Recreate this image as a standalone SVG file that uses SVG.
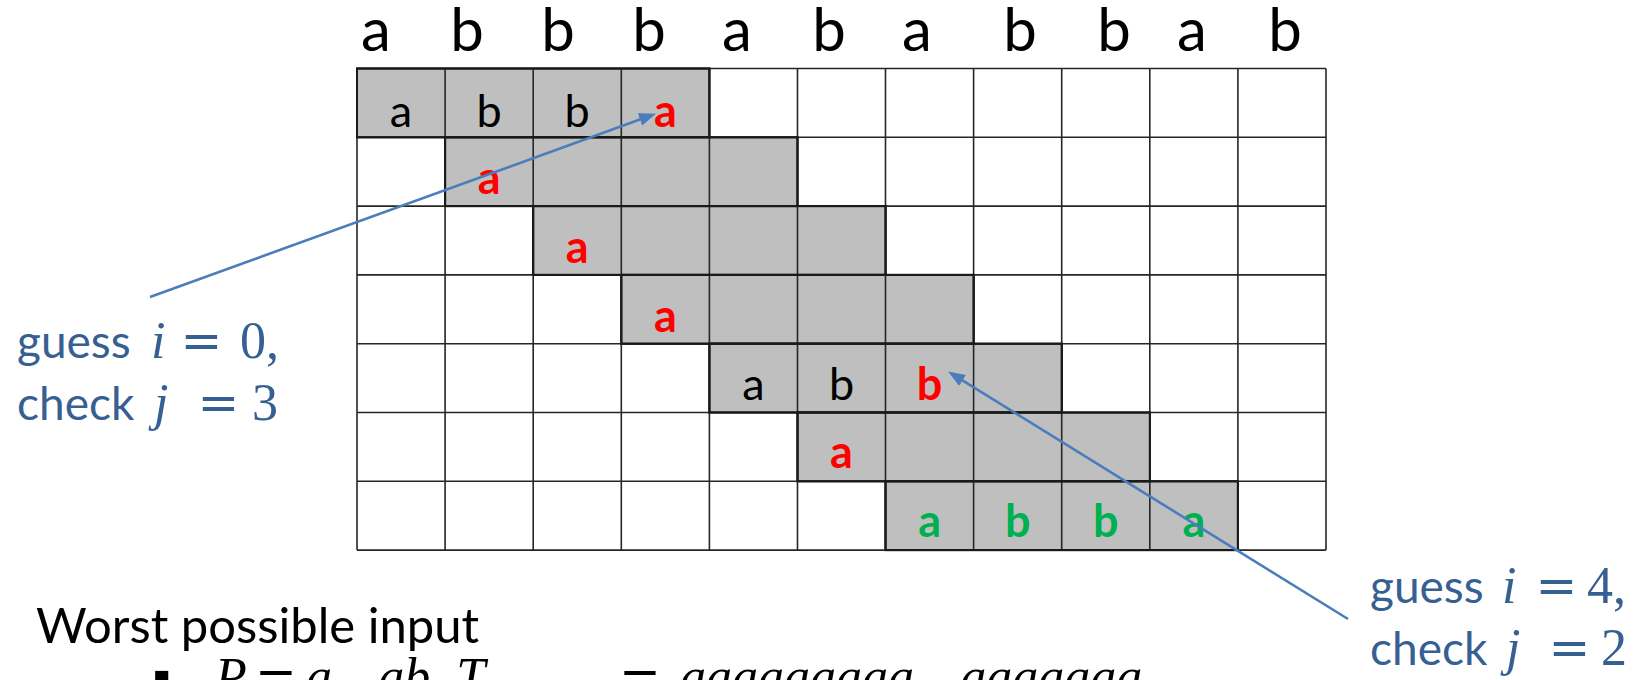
<svg xmlns="http://www.w3.org/2000/svg" width="1647" height="680" viewBox="0 0 1647 680">
<style>
.top{font-family:Lato,"Noto Sans",sans-serif;font-size:60px;fill:#000;text-anchor:middle}
.cell{font-family:Lato,"Noto Sans",sans-serif;font-size:45px;fill:#000;text-anchor:middle}
.red{fill:#FF0000;font-weight:bold}
.green{fill:#00B050;font-weight:bold}
.blk{fill:#BFBFBF;stroke:#1a1a1a;stroke-width:2}
.grid{stroke:#262626;stroke-width:1.6;fill:none}
.arrow{stroke:#4A7EBB;stroke-width:2.6;fill:none;marker-end:url(#ah)}
.lbl{font-family:Lato,"Noto Sans",sans-serif;font-size:46px;fill:#376092}
.mi{font-family:"Liberation Serif",serif;font-style:italic;font-size:52px}
.mr{font-family:"Liberation Serif",serif;font-size:52px}
.eq{font-family:"DejaVu Serif",serif;font-size:50px;text-anchor:middle}
.body{font-family:Lato,"Noto Sans",sans-serif;font-size:49px;fill:#000}
</style>
<defs>
<marker id="ah" markerUnits="userSpaceOnUse" markerWidth="18" markerHeight="14" refX="13" refY="6.5" orient="auto">
<path d="M0,0 L17,6.5 L0,13 z" fill="#4A7EBB"/>
</marker>
</defs>

<g id="header">
<text class="top" x="376" y="51">a</text>
<text class="top" x="467" y="51">b</text>
<text class="top" x="558" y="51">b</text>
<text class="top" x="649" y="51">b</text>
<text class="top" x="737" y="51">a</text>
<text class="top" x="829" y="51">b</text>
<text class="top" x="917" y="51">a</text>
<text class="top" x="1020" y="51">b</text>
<text class="top" x="1114" y="51">b</text>
<text class="top" x="1192" y="51">a</text>
<text class="top" x="1285" y="51">b</text>
</g>

<g id="grid">
<rect x="357" y="68.5" width="969" height="481.6" fill="#fff"/>
<g id="blocks">
<rect class="blk" x="357" y="68.5" width="352.4" height="68.8"/>
<rect class="blk" x="445.1" y="137.3" width="352.4" height="68.8"/>
<rect class="blk" x="533.2" y="206.1" width="352.4" height="68.8"/>
<rect class="blk" x="621.3" y="274.9" width="352.4" height="68.8"/>
<rect class="blk" x="709.4" y="343.7" width="352.4" height="68.8"/>
<rect class="blk" x="797.5" y="412.5" width="352.4" height="68.8"/>
<rect class="blk" x="885.5" y="481.3" width="352.4" height="68.8"/>
</g>
<path class="grid" d="M357,68.5V550.1M445.1,68.5V550.1M533.2,68.5V550.1M621.3,68.5V550.1M709.4,68.5V550.1M797.5,68.5V550.1M885.5,68.5V550.1M973.6,68.5V550.1M1061.7,68.5V550.1M1149.8,68.5V550.1M1237.9,68.5V550.1M1326,68.5V550.1M357,68.5H1326M357,137.3H1326M357,206.1H1326M357,274.9H1326M357,343.7H1326M357,412.5H1326M357,481.3H1326M357,550.1H1326"/>
<g id="blockOutlines" fill="none" stroke="#1a1a1a" stroke-width="2">
<rect x="357" y="68.5" width="352.4" height="68.8"/>
<rect x="445.1" y="137.3" width="352.4" height="68.8"/>
<rect x="533.2" y="206.1" width="352.4" height="68.8"/>
<rect x="621.3" y="274.9" width="352.4" height="68.8"/>
<rect x="709.4" y="343.7" width="352.4" height="68.8"/>
<rect x="797.5" y="412.5" width="352.4" height="68.8"/>
<rect x="885.5" y="481.3" width="352.4" height="68.8"/>
</g>
</g>

<g id="cells">
<text class="cell" x="401" y="127">a</text>
<text class="cell" x="489.1" y="127">b</text>
<text class="cell" x="577.2" y="127">b</text>
<text class="cell red" x="665.3" y="127">a</text>
<text class="cell red" x="489.1" y="194">a</text>
<text class="cell red" x="577.2" y="263">a</text>
<text class="cell red" x="665.3" y="332">a</text>
<text class="cell" x="753.4" y="400">a</text>
<text class="cell" x="841.5" y="400">b</text>
<text class="cell red" x="929.6" y="400">b</text>
<text class="cell red" x="841.5" y="468">a</text>
<text class="cell green" x="929.6" y="537">a</text>
<text class="cell green" x="1017.7" y="537">b</text>
<text class="cell green" x="1105.8" y="537">b</text>
<text class="cell green" x="1193.9" y="537">a</text>
</g>

<g id="connectors">
<line class="arrow" x1="150" y1="297" x2="652.2" y2="115"/>
<line class="arrow" x1="1348" y1="619" x2="951.5" y2="373.6"/>
</g>

<g id="label-left" class="lbl">
<text y="358"><tspan x="17">guess</tspan><tspan class="mi" x="151">i</tspan><tspan class="eq" x="201.5">=</tspan><tspan class="mr" x="240">0,</tspan></text>
<text y="420"><tspan x="17">check</tspan><tspan class="mi" x="154">j</tspan><tspan class="eq" x="218.5">=</tspan><tspan class="mr" x="252">3</tspan></text>
</g>

<g id="label-right" class="lbl">
<text y="603"><tspan x="1370">guess</tspan><tspan class="mi" x="1502">i</tspan><tspan class="eq" x="1556.5">=</tspan><tspan class="mr" x="1587">4,</tspan></text>
<text y="665"><tspan x="1370">check</tspan><tspan class="mi" x="1506">j</tspan><tspan class="eq" x="1569.5">=</tspan><tspan class="mr" x="1601">2</tspan></text>
</g>

<g id="bottom-text">
<text class="body" x="36" y="643">Worst possible input</text>
<text class="body" y="694"><tspan x="152">▪</tspan><tspan class="mi" x="215">P</tspan><tspan class="eq" x="276">=</tspan><tspan class="mi" x="306">a…ab, T</tspan><tspan class="eq" x="640">=</tspan><tspan class="mi" x="680">aaaaaaaaa…aaaaaaa</tspan></text>
</g>
</svg>
